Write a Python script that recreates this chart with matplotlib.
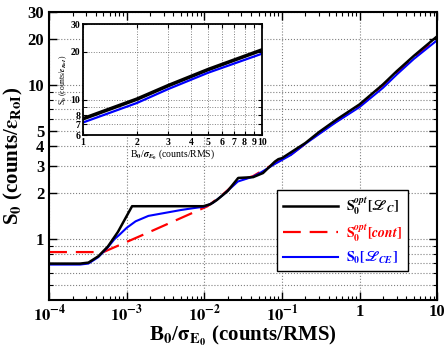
import matplotlib
matplotlib.use("Agg")
import matplotlib.pyplot as plt
from matplotlib.ticker import FixedLocator, FixedFormatter, NullFormatter

plt.rcParams["font.family"] = ["Liberation Serif", "DejaVu Serif"]
plt.rcParams["font.weight"] = "bold"
plt.rcParams["mathtext.fontset"] = "stix"

# black: optimised S0 for L_C
black_x = [1e-4, 2.5e-4, 3.2e-4, 4.3e-4, 5.7e-4, 7.7e-4, 1.17e-3, 9.7e-3, 1.2e-2,
           1.45e-2, 2e-2, 2.73e-2, 4.25e-2, 5.7e-2, 8.1e-2, 0.09, 0.1, 0.2, 0.3,
           0.5, 1, 2, 3, 5, 10]
black_y = [0.69, 0.69, 0.70, 0.77, 0.89, 1.11, 1.63, 1.63, 1.68, 1.79, 2.05, 2.49,
           2.52, 2.68, 3.18, 3.3, 3.35, 4.2, 4.95, 5.95, 7.5, 10.1, 12.3, 15.5, 20.8]

# red dashed: continuous approximation
red_x = [1e-4, 5e-4, 1.9e-3, 1.1e-2, 1.74e-2, 2.7e-2, 4.25e-2, 8.1e-2, 0.13, 0.3,
         1, 3, 10]
red_y = [0.82, 0.82, 1.10, 1.63, 1.95, 2.38, 2.56, 3.1, 3.53, 4.85, 7.35, 12.0, 20.2]

# blue: S0 for L_CE
blue_x = [1e-4, 2.5e-4, 3.2e-4, 4.3e-4, 5.7e-4, 7e-4, 8e-4, 1e-3, 1.3e-3, 1.9e-3,
          3e-3, 5e-3, 7e-3, 1e-2, 1.3e-2, 1.74e-2, 2.7e-2, 4.25e-2, 5.2e-2, 8.1e-2,
          0.13, 0.2, 0.3, 0.5, 1, 2, 3, 5, 10]
blue_y = [0.68, 0.68, 0.69, 0.76, 0.88, 1.0, 1.06, 1.18, 1.3, 1.41, 1.47, 1.54, 1.58,
          1.62, 1.72, 1.93, 2.36, 2.54, 2.68, 3.07, 3.51, 4.15, 4.8, 5.75, 7.2, 9.6,
          11.7, 14.8, 19.6]

# inset (zoom on 1..10)
inset_x = [1, 2, 3, 5, 10]
inset_black = [7.6, 10.1, 12.3, 15.5, 20.6]
inset_blue = [7.2, 9.55, 11.7, 14.8, 19.5]

x_ticks = [1e-4, 1e-3, 1e-2, 1e-1, 1, 10]
x_labels = [r"$\mathbf{10^{-4}}$", r"$\mathbf{10^{-3}}$", r"$\mathbf{10^{-2}}$",
            r"$\mathbf{10^{-1}}$", "1", "10"]
y_ticks = [1, 2, 3, 4, 5, 10, 20, 30]
y_minor = [0.5, 0.6, 0.7, 0.8, 0.9, 6, 7, 8, 9]

fig = plt.figure(figsize=(4.47, 3.48), dpi=100)
ax = fig.add_axes([0.110, 0.138, 0.868, 0.828])

ax.plot(black_x, black_y, color="black", lw=1.8, zorder=3,
        label=r"$\mathbf{S_0^{\mathit{opt}}}[\mathscr{L}_C]$")
ax.plot(red_x, red_y, color="red", lw=1.6, dashes=(8, 4),
        label=r"$\mathbf{S_0^{\mathit{opt}}}[\mathit{cont}]$")
ax.plot(blue_x, blue_y, color="blue", lw=1.5, label=r"$\mathbf{S_0}[\mathscr{L}_{CE}]$")

ax.set_xscale("log")
ax.set_yscale("log")
ax.set_xlim(1e-4, 10)
ax.set_ylim(0.4, 30)
ax.xaxis.set_major_locator(FixedLocator(x_ticks))
ax.xaxis.set_major_formatter(FixedFormatter(x_labels))
ax.xaxis.set_minor_formatter(NullFormatter())
ax.yaxis.set_major_locator(FixedLocator(y_ticks))
ax.yaxis.set_major_formatter(FixedFormatter([str(v) for v in y_ticks]))
ax.yaxis.set_minor_locator(FixedLocator(y_minor))
ax.yaxis.set_minor_formatter(NullFormatter())
ax.tick_params(which="both", direction="in", top=True, right=True, labelsize=12)
ax.tick_params(which="major", length=6, width=1)
ax.tick_params(which="minor", length=3, width=0.8)
ax.tick_params(axis="x", pad=3)
ax.grid(True, which="major", axis="x", ls=":", color="gray", lw=0.8)
ax.grid(True, which="both", axis="y", ls=":", color="gray", lw=0.8)
for s in ax.spines.values():
    s.set_linewidth(1.5)

ax.set_xlabel(r"B$_\mathbf{0}$/$\mathbf{\sigma}_{\mathbf{E_0}}$ (counts/RMS)",
              fontsize=15, fontweight="bold", labelpad=-1)
ax.set_ylabel(r"S$_\mathbf{0}$ (counts/$\mathbf{\varepsilon}_\mathbf{RoI}$)",
              fontsize=15, fontweight="bold", labelpad=2)

leg = ax.legend(loc="lower right", bbox_to_anchor=(0.925, 0.10), fontsize=10,
                handlelength=4.0, handletextpad=0.6, borderaxespad=0,
                frameon=True, fancybox=False, framealpha=1,
                edgecolor="black", borderpad=0.4, labelspacing=0.35)
leg.get_frame().set_linewidth(1.0)
for t, c in zip(leg.get_texts(), ["black", "red", "blue"]):
    t.set_color(c)

# inset
ins = fig.add_axes([0.186, 0.612, 0.400, 0.319])
ins.plot(inset_x, inset_black, color="black", lw=2.6)
ins.plot(inset_x, inset_blue, color="blue", lw=1.6)
ins.set_xscale("log")
ins.set_yscale("log")
ins.set_xlim(1, 10)
ins.set_ylim(6, 30)
ins.xaxis.set_major_locator(FixedLocator(list(range(1, 11))))
ins.xaxis.set_major_formatter(FixedFormatter([str(v) for v in range(1, 11)]))
ins.xaxis.set_minor_locator(FixedLocator([]))
ins.yaxis.set_major_locator(FixedLocator([6, 7, 8, 10, 20, 30]))
ins.yaxis.set_major_formatter(FixedFormatter(["6", "7", "8", "10", "20", "30"]))
ins.yaxis.set_minor_locator(FixedLocator([9]))
ins.yaxis.set_minor_formatter(NullFormatter())
ins.tick_params(which="both", direction="in", top=True, right=True, labelsize=7,
                length=3, pad=2)
ins.grid(True, which="both", ls=":", color="gray", lw=0.7)
for s in ins.spines.values():
    s.set_linewidth(1.3)
ins.set_xlabel(r"B$_0$/$\sigma_{E_0}$ (counts/RMS)", fontsize=7, labelpad=1)
ins.set_ylabel(r"S$_0$ (counts/$\varepsilon_{RoI}$)", fontsize=5.5, labelpad=1)

fig.savefig("out.png", dpi=100)
